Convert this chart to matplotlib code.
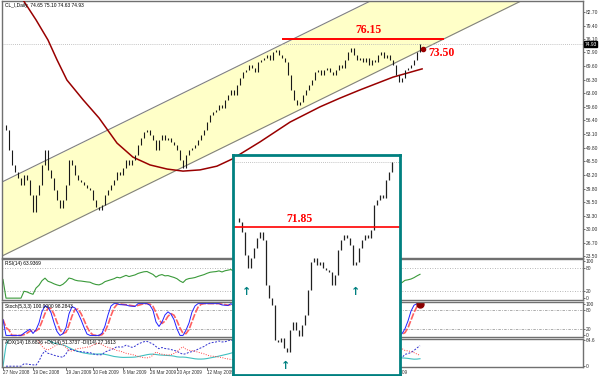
import numpy as np
import pandas as pd
import matplotlib
matplotlib.use("Agg")
import matplotlib.pyplot as plt

plt.rcParams.update({
    "font.family": ["Liberation Sans", "DejaVu Sans"],
    "font.size": 4,
})

# ---------------------------------------------------------
# Data (daily crude oil, 3 px per bar)
# ---------------------------------------------------------

close = [
    55.3, 54.1, 49.2, 45.6, 43.9, 42.4, 40.7, 43.2, 41.9, 38.3,
    34.2, 38.3, 40.7, 45.6, 49.2, 44.4, 42.4, 39.5, 37.1, 35.2,
    37.1, 40.7, 46.8, 45.6, 43.2, 41.9, 41.5, 40.7, 40.0, 39.5,
    37.1, 35.4, 34.7, 35.9, 38.3, 39.5, 40.7, 41.9, 43.9, 43.2,
    44.9, 46.8, 45.6, 46.8, 48.0, 50.4, 52.1, 53.6, 54.1, 52.9,
    51.7, 49.2, 51.7, 52.9, 51.7, 52.1, 51.2, 50.4, 49.2, 46.8,
    44.9, 48.0, 49.2, 49.7, 50.4, 51.7, 52.9, 54.1, 56.0, 57.7,
    58.4, 58.9, 60.1, 59.4, 61.4, 62.6, 63.8, 62.6, 65.0, 66.7,
    68.1, 68.6, 69.8, 69.1, 68.1, 70.6, 71.1, 71.5, 72.3, 71.1,
    73.0, 73.5, 72.3, 71.5, 70.6, 67.4, 63.8, 61.4, 60.1, 60.9,
    62.6, 63.8, 65.0, 66.2, 68.1, 68.6, 67.4, 68.6, 69.1, 68.1,
    67.4, 68.6, 69.8, 69.1, 71.1, 73.0, 74.0, 72.3, 71.1, 71.5,
    70.6, 71.5, 69.8, 71.1, 70.6, 72.3, 73.0, 71.5, 72.3, 71.1,
    69.8, 67.4, 65.7, 66.7, 68.6, 69.1, 69.8, 71.1, 73.0, 74.93,
]

# long moving average (dark red curve), bar index / price
ma_idx = [0, 6.7, 11, 15, 18, 21.3, 26.7, 32, 38, 43.3, 49, 54.7,
          60, 65.7, 71.3, 76.3, 85.7, 95.7, 105.7, 112.3, 119, 130, 139.7]
ma_val = [94.8, 85.6, 80.8, 75.9, 71.1, 66.2, 61.4, 57.0, 50.9, 47.5, 45.6,
          44.6, 44.1, 44.4, 45.3, 47.0, 51.2, 56.0, 59.7, 61.8, 63.8, 66.9, 68.9]

# equidistant channel: two points of the lower line + width
chan_x = [-0.33, 173.33]
chan_lower = [23.5, 85.6]
chan_width = 17.96

resistance = 76.15
resistance_x = [93.3, 146.7]
channel_touch = (140.0, 73.7)

# inset: zoom of an inverse head & shoulders
inset_close = [
    72.39, 72.15, 71.55, 70.17, 69.39, 69.99, 70.59, 71.19, 71.55, 71.07,
    68.37, 67.59, 67.17, 65.07, 64.95, 65.19, 64.59, 64.35, 65.67, 66.15,
    65.67, 65.31, 65.97, 66.57, 68.07, 69.75, 69.99, 69.57, 69.75, 69.39,
    69.27, 69.15, 68.37, 68.97, 70.47, 71.07, 71.37, 71.19, 70.77, 69.57,
    69.75, 70.59, 71.07, 71.37, 71.19, 71.67, 73.17, 73.47, 73.77, 73.59,
    74.67, 75.15, 75.75,
]
neckline = 71.85
arrow_x = [3.67, 16.67, 40.0]
arrow_y = [67.95, 63.5, 67.95]

price_ticks = [82.70, 79.40, 76.10, 72.90, 69.60, 66.30, 63.00, 59.60, 56.40,
               53.10, 49.80, 46.50, 43.20, 39.80, 36.50, 33.30, 30.00, 26.70, 23.50]
date_idx = [0, 10, 21, 30, 40, 49, 58, 68, 77, 87, 97, 106, 116, 126]
date_lbl = ["27 Nov 2008", "19 Dec 2008", "19 Jan 2009", "10 Feb 2009",
            "6 Mar 2009", "26 Mar 2009", "20 Apr 2009", "12 May 2009",
            "3 Jun 2009", "24 Jun 2009", "16 Jul 2009", "6 Aug 2009",
            "27 Aug 2009", "18 Sep 2009"]

# ---------------------------------------------------------
# bars + indicators
# ---------------------------------------------------------

c = pd.Series(close)
o = c.shift(1).fillna(c.iloc[0])
hi = np.maximum(o, c)
lo = np.minimum(o, c)
x = np.arange(len(c))

d = c.diff().fillna(0)
up = d.clip(lower=0).ewm(alpha=1 / 14, adjust=True).mean()
dn = (-d.clip(upper=0)).ewm(alpha=1 / 14, adjust=True).mean()
rsi = (100 - 100 / (1 + up / dn)).fillna(50)

ll = lo.rolling(5, min_periods=1).min()
hh = hi.rolling(5, min_periods=1).max()
k = 100 * (c - ll).rolling(3, min_periods=1).sum() / (hh - ll).rolling(3, min_periods=1).sum()
k = k.fillna(50)
sig = k.rolling(3, min_periods=1).mean()

up_move = hi.diff().fillna(0)
down_move = (-lo.diff()).fillna(0)
pdm = pd.Series(np.where((up_move > down_move) & (up_move > 0), up_move, 0.0))
mdm = pd.Series(np.where((down_move > up_move) & (down_move > 0), down_move, 0.0))
tr = pd.concat([hi - lo, (hi - c.shift(1)).abs(), (lo - c.shift(1)).abs()], axis=1).max(axis=1)
atr = tr.ewm(alpha=1 / 14, adjust=True).mean()
pdi = 100 * pdm.ewm(alpha=1 / 14, adjust=True).mean() / atr
mdi = 100 * mdm.ewm(alpha=1 / 14, adjust=True).mean() / atr
dx = (100 * (pdi - mdi).abs() / (pdi + mdi)).fillna(0)
adx = dx.ewm(alpha=1 / 14, adjust=True).mean()

# ---------------------------------------------------------
# figure layout (pixel boxes)
# ---------------------------------------------------------

W, H = 600, 376
fig = plt.figure(figsize=(W / 100, H / 100), dpi=100)


def px_axes(x0, y0, x1, y1):
    return fig.add_axes([x0 / W, 1 - y1 / H, (x1 - x0) / W, (y1 - y0) / H])


XR = 583
XL = (-0.333, (XR - 3) / 3)
frame = "#707070"
TS = 3.5   # tiny MetaTrader text


def style(ax):
    ax.set_xlim(*XL)
    for s in ax.spines.values():
        s.set_color(frame)
        s.set_linewidth(1.0)
    ax.yaxis.tick_right()
    ax.tick_params(axis="y", length=1.5, width=0.5, pad=0.6, labelsize=TS,
                   colors="#303030")
    ax.tick_params(axis="x", length=0, labelbottom=False)


ax = px_axes(2, 1, XR, 258)
style(ax)
ax.set_ylim(23.02, 85.37)
ax.set_yticks(price_ticks)
ax.set_yticklabels([f"{v:.2f}" for v in price_ticks])

# channel
x0, x1 = chan_x
ax.fill_between(chan_x, chan_lower, [v + chan_width for v in chan_lower],
                color="#ffffc8", lw=0, zorder=0)
ax.axline((x0, chan_lower[0]), (x1, chan_lower[1]), color="#808080", lw=0.8, zorder=1)
ax.axline((x0, chan_lower[0] + chan_width), (x1, chan_lower[1] + chan_width),
          color="#808080", lw=0.8, zorder=1)

ax.axhline(close[-1], color="#b0b0b0", lw=0.6, ls=(0, (1, 1.5)), zorder=1)
ax.plot(ma_idx, ma_val, color="#990000", lw=1.1, zorder=3)
ax.vlines(x, lo, hi, color="#181818", lw=0.8, zorder=4)

ax.plot(resistance_x, [resistance] * 2, color="red", lw=1.4, zorder=5)
ax.text(121.7, 77.0, f"{resistance:.2f}", color="red", fontsize=8.5,
        family="Liberation Serif", weight="bold", ha="center", va="bottom")
ax.plot(*channel_touch, "o", color="#990000", ms=3, zorder=6)
ax.text(141.7, 72.7, "73.50", color="red", fontsize=8.5,
        family="Liberation Serif", weight="bold", ha="left", va="center")

ax.text(0.006, 0.992, "CL_I,Daily  74.65 75.10 74.63 74.93", transform=ax.transAxes,
        fontsize=TS, va="top", ha="left")
ax.text(1.003, close[-1], f"{close[-1]:.2f}", transform=ax.get_yaxis_transform(),
        fontsize=TS, color="white", va="center", ha="left",
        bbox=dict(boxstyle="square,pad=0.1", fc="black", ec="black"))

# RSI
ax_r = px_axes(2, 259, XR, 300)
style(ax_r)
ax_r.set_ylim(-5, 105)
ax_r.set_yticks([100, 80, 20, 0])
for lv in (80, 20):
    ax_r.axhline(lv, color="#a0a0a0", lw=0.6, ls=(0, (1, 2)))
ax_r.plot(x, rsi, color="#3a9a3a", lw=0.8)
ax_r.text(0.006, 0.95, f"RSI(14) {rsi.iloc[-1]:.4f}", transform=ax_r.transAxes,
          fontsize=TS, va="top")

# Stochastic
ax_s = px_axes(2, 302, XR, 337)
style(ax_s)
ax_s.set_ylim(-5, 105)
ax_s.set_yticks([100, 80, 20, 0])
for lv in (80, 20):
    ax_s.axhline(lv, color="#a0a0a0", lw=0.6, ls=(0, (3, 1.5, 1, 1.5)))
ax_s.plot(x, sig, color="#ff6060", lw=1.2, ls=(0, (4, 1)))
ax_s.plot(x, k, color="#2020ff", lw=0.7)
ax_s.plot(x[-1], k.iloc[-1], "o", color="#8b0000", ms=5)
ax_s.text(0.006, 0.95, f"Stoch(5,3,3) {k.iloc[-1]:.4f} {sig.iloc[-1]:.4f}",
          transform=ax_s.transAxes, fontsize=TS, va="top")

# ADX
ax_a = px_axes(2, 339, XR, 367)
style(ax_a)
ax_a.set_ylim(-2, 68)
ax_a.set_yticks([64.6, 0])
ax_a.set_yticklabels(["64.6", "0"])
ax_a.plot(x, adx, color="#40c0c0", lw=0.8)
ax_a.plot(x, pdi, color="#3030d0", lw=0.7, ls=(0, (2, 1.5)))
ax_a.plot(x, mdi, color="#ff4040", lw=0.7, ls=(0, (1, 1.5)))
ax_a.text(0.006, 0.95,
          f"ADX(14) {adx.iloc[-1]:.4f} +DI(14) {pdi.iloc[-1]:.4f} -DI(14) {mdi.iloc[-1]:.4f}",
          transform=ax_a.transAxes, fontsize=TS, va="top")
ax_a.tick_params(axis="x", length=2, width=0.5, labelbottom=True, pad=0.5,
                 labelsize=3.3, colors="#303030")
ax_a.set_xticks(date_idx)
ax_a.set_xticklabels(date_lbl, ha="left")

# ---------------------------------------------------------
# inset
# ---------------------------------------------------------

ic = pd.Series(inset_close)
io = ic.shift(1).fillna(ic.iloc[0])
ix = np.arange(len(ic))
ins = px_axes(233, 155, 400, 375)
ins.set_facecolor("white")
ins.set_xlim(-1, 54.7)
ins.set_ylim(62.97, 76.17)
ins.set_xticks([])
ins.set_yticks([])
for s in ins.spines.values():
    s.set_color("#008080")
    s.set_linewidth(2)
ins.axhline(75.75, color="#b0b0b0", lw=0.6, ls=(0, (1, 1.5)))
ins.vlines(ix, np.minimum(io, ic), np.maximum(io, ic), color="#202020", lw=0.9)
ins.axhline(neckline, color="red", lw=1.2)
ins.text(21.3, 72.0, f"{neckline:.2f}", color="red", fontsize=8.5,
         family="Liberation Serif", weight="bold", ha="center", va="bottom")
for ax_, ay_ in zip(arrow_x, arrow_y):
    ins.text(ax_, ay_, "\u2191", color="#008080", fontsize=8, weight="bold",
             family="DejaVu Sans", ha="center", va="center")

fig.savefig("out.png", dpi=100)
